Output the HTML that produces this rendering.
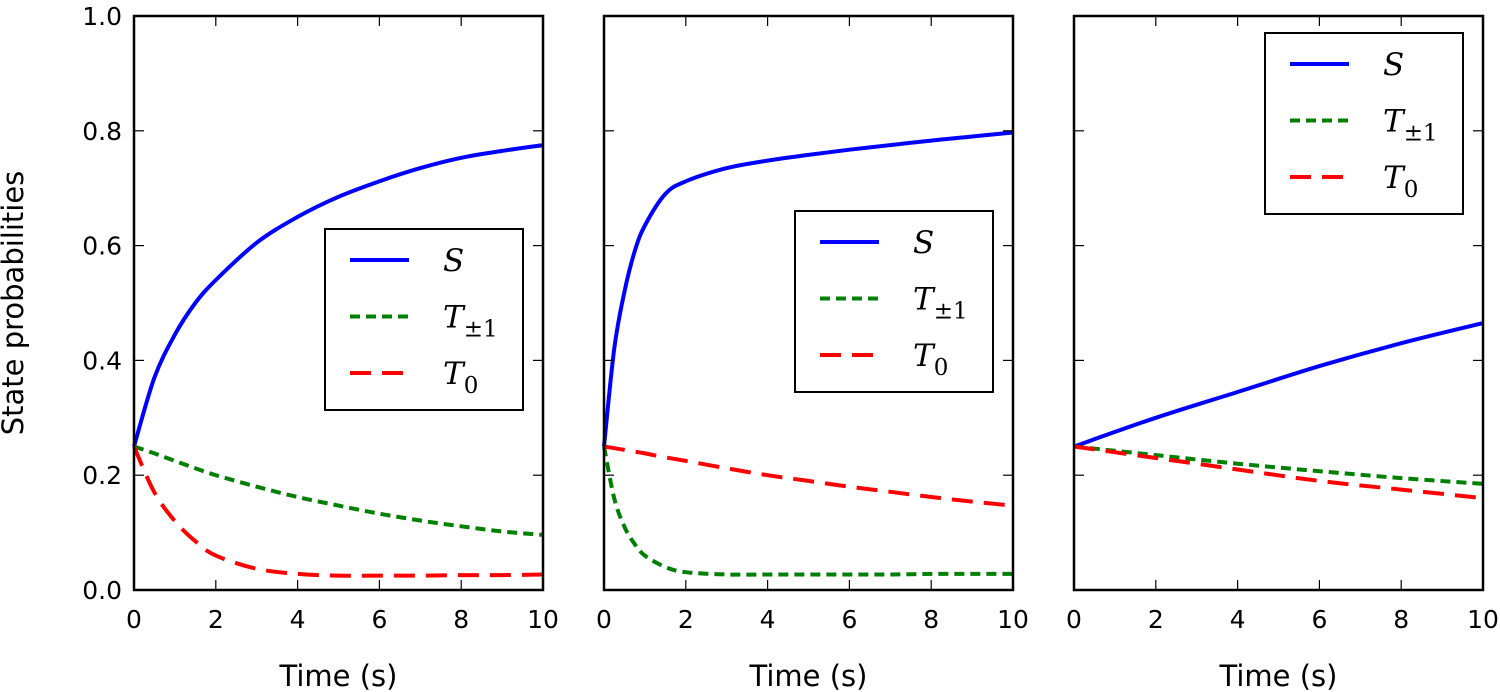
<!DOCTYPE html>
<html><head><meta charset="utf-8"><style>
body{margin:0;background:#fff;}
svg{display:block;font-family:"DejaVu Sans","Liberation Sans",sans-serif;}
.tick{font-size:25px;fill:#000;}
.math{font-family:"DejaVu Serif","Liberation Serif",serif;font-style:italic;font-size:31px;}
.sub{font-family:"DejaVu Serif","Liberation Serif",serif;font-style:normal;font-size:23px;}
</style></head><body>
<svg id="fig" width="1500" height="692" viewBox="0 0 1500 692" xmlns="http://www.w3.org/2000/svg">
<text transform="translate(23,303) rotate(-90)" text-anchor="middle" font-size="29">State probabilities</text>
</svg>
<script>
const xTicks=[0,2,4,6,8,10];
const yTicks=[0.0,0.2,0.4,0.6,0.8,1.0];
const yTickLabels=["0.0","0.2","0.4","0.6","0.8","1.0"];
const p1T=[0,0.5,1,1.5,2,3,4,5,6,7,8,9,10];
const p1S=[0.25,0.37,0.445,0.50,0.54,0.605,0.65,0.685,0.712,0.735,0.753,0.765,0.775];
const p1Tpm=[0.25,0.238,0.225,0.212,0.20,0.18,0.162,0.147,0.133,0.121,0.111,0.102,0.096];
const p1T0=[0.25,0.17,0.12,0.085,0.06,0.037,0.028,0.025,0.025,0.025,0.026,0.026,0.027];
const p2T=[0,0.25,0.5,0.75,1,1.5,2,3,4,5,6,7,8,9,10];
const p2S=[0.25,0.42,0.52,0.59,0.635,0.69,0.712,0.735,0.748,0.758,0.767,0.775,0.783,0.79,0.797];
const p2Tpm=[0.25,0.16,0.11,0.08,0.06,0.04,0.031,0.027,0.027,0.027,0.027,0.027,0.028,0.028,0.028];
const p2T0=[0.25,0.247,0.244,0.241,0.238,0.231,0.225,0.212,0.20,0.19,0.18,0.171,0.162,0.154,0.147];
const p3T=[0,2,4,6,8,10];
const p3S=[0.25,0.30,0.345,0.39,0.43,0.465];
const p3Tpm=[0.25,0.235,0.22,0.207,0.195,0.185];
const p3T0=[0.25,0.23,0.21,0.19,0.175,0.16];
const panels=[
 {x0:134,t:p1T,S:p1S,Tpm:p1Tpm,T0:p1T0,lg:[325,229]},
 {x0:604,t:p2T,S:p2S,Tpm:p2Tpm,T0:p2T0,lg:[795,211]},
 {x0:1074,t:p3T,S:p3S,Tpm:p3Tpm,T0:p3T0,lg:[1265,33]}];
const NS="http://www.w3.org/2000/svg";
const svg=document.getElementById('fig');
const Y0=590,Y1=16,W=409;
function yS(v){return Y0-(Y0-Y1)*v;}
function mk(tag,attrs,parent){const e=document.createElementNS(NS,tag);for(const k in attrs)e.setAttribute(k,attrs[k]);(parent||svg).appendChild(e);return e;}
function smooth(pts){
 let d='M'+pts[0][0].toFixed(1)+','+pts[0][1].toFixed(1);
 for(let i=0;i<pts.length-1;i++){
  const p0=pts[Math.max(0,i-1)],p1=pts[i],p2=pts[i+1],p3=pts[Math.min(pts.length-1,i+2)];
  const c1=[p1[0]+(p2[0]-p0[0])/6,p1[1]+(p2[1]-p0[1])/6];
  const c2=[p2[0]-(p3[0]-p1[0])/6,p2[1]-(p3[1]-p1[1])/6];
  d+=' C'+c1[0].toFixed(1)+','+c1[1].toFixed(1)+' '+c2[0].toFixed(1)+','+c2[1].toFixed(1)+' '+p2[0].toFixed(1)+','+p2[1].toFixed(1);
 }
 return d;
}
const styles={S:{c:"#0000ff",d:""},Tpm:{c:"#008000",d:"10,6"},T0:{c:"#ff0000",d:"21,11"}};
panels.forEach((p,i)=>{
 const xS=v=>p.x0+W*v/10;
 const g=mk('g',{});
 
 
 ['S','Tpm','T0'].forEach(k=>{
  const pts=p.t.map((t,j)=>[xS(t),yS(p[k][j])]);
  const path=mk('path',{d:smooth(pts),fill:'none',stroke:styles[k].c,'stroke-width':4,'stroke-dasharray':styles[k].d||'none'},g);
  
  
 });
 const fr=mk('rect',{x:p.x0,y:Y1,width:W,height:Y0-Y1,fill:'none',stroke:'#000','stroke-width':2.5},g);
 
 
 xTicks.forEach(t=>{
  const x=xS(t);
  mk('line',{x1:x,x2:x,y1:Y0,y2:Y0-10,stroke:'#000','stroke-width':1.2},g);
  mk('line',{x1:x,x2:x,y1:Y1,y2:Y1+10,stroke:'#000','stroke-width':1.2},g);
  const tx=mk('text',{x:x,y:Y0+38,'text-anchor':'middle',class:'tick'},g);tx.textContent=t;
  
  
 });
 yTicks.forEach((v,j)=>{
  const y=yS(v);
  mk('line',{x1:p.x0,x2:p.x0+10,y1:y,y2:y,stroke:'#000','stroke-width':1.2},g);
  mk('line',{x1:p.x0+W,x2:p.x0+W-10,y1:y,y2:y,stroke:'#000','stroke-width':1.2},g);
  if(i===0){const tx=mk('text',{x:p.x0-12,y:y+9,'text-anchor':'end',class:'tick'},g);tx.textContent=yTickLabels[j];
   
   }
 });
 const xl=mk('text',{x:p.x0+W/2,y:686,'text-anchor':'middle','font-size':29},g);xl.textContent='Time (s)';
 
 
 const [lx,ly]=p.lg;
 const lg=mk('g',{},g);
 
 
 mk('rect',{x:lx,y:ly,width:198,height:181,fill:'#fff',stroke:'#000','stroke-width':2},lg);
 const names=[['S',''],['T','±1'],['T','0']];
 ['S','Tpm','T0'].forEach((k,j)=>{
  const yy=ly+31+j*56.5;
  mk('line',{x1:lx+25,x2:lx+84,y1:yy,y2:yy,stroke:styles[k].c,'stroke-width':4,'stroke-dasharray':styles[k].d||'none'},lg);
  const t=mk('text',{x:lx+118,y:yy+11,class:'math'},lg);
  
  
  t.textContent=names[j][0];
  if(names[j][1]){const s=mk('tspan',{class:'sub',dy:9},t);s.textContent=names[j][1];}
 });
});
</script>
</body></html>
